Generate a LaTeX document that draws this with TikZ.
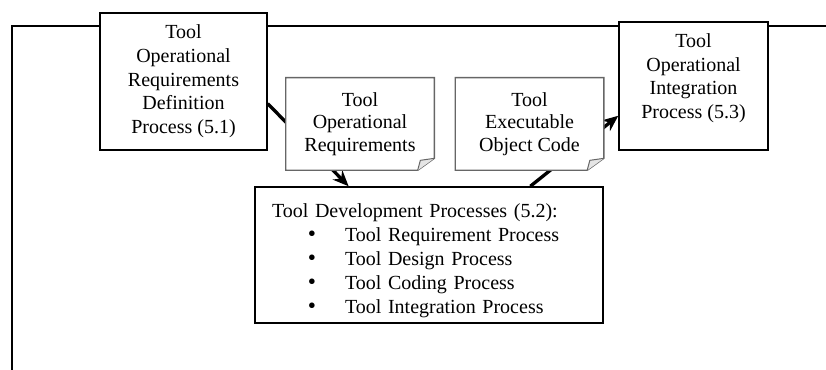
\documentclass[tikz,border=0pt]{standalone}
\usepackage{fontspec}
\setmainfont{Liberation Serif}
\usetikzlibrary{arrows.meta, calc, backgrounds}

\begin{document}
\begin{tikzpicture}[x=0.6pt, y=-0.6pt,
  procbox/.style={draw, line width=0.9pt, fill=white, align=center, inner sep=2pt, font=\fontsize{12}{14.2}\selectfont},
  docnote/.style={fill=white, align=center, inner sep=2pt, minimum width=88.8pt, minimum height=55.2pt, font=\fontsize{12}{13.5}\selectfont},
  flow/.style={line width=2pt, -{Stealth[length=9.5pt, width=8pt]}}
]
  \useasboundingbox (0,0) rectangle (826,370);

  % Processes
  \node[procbox, minimum width=100.2pt, minimum height=82.2pt] (opdef) at (183.5, 81.5) {Tool\\Operational\\Requirements\\Definition\\Process (5.1)};
  \node[procbox, minimum width=89.4pt, minimum height=76.8pt, text depth=12pt] (opint) at (693.5, 86) {Tool\\Operational\\Integration\\Process (5.3)};
  \node[procbox, align=left, text width=188.4pt, inner xsep=10.2pt, minimum height=81.6pt, text depth=53pt, font=\fontsize{12}{14.4}\selectfont] (devproc) at (429, 255) {Tool Development Processes (5.2):\\
    \hspace*{21.5pt}\makebox[22.3pt][l]{\smash{\fontsize{14}{14}\selectfont\textbullet}}Tool Requirement Process\\
    \hspace*{21.5pt}\makebox[22.3pt][l]{\smash{\fontsize{14}{14}\selectfont\textbullet}}Tool Design Process\\
    \hspace*{21.5pt}\makebox[22.3pt][l]{\smash{\fontsize{14}{14}\selectfont\textbullet}}Tool Coding Process\\
    \hspace*{21.5pt}\makebox[22.3pt][l]{\smash{\fontsize{14}{14}\selectfont\textbullet}}Tool Integration Process};

  % Data items
  \node[docnote] (opreq) at (360, 124) {Tool\\Operational\\Requirements};
  \node[docnote] (objcode) at (529.5, 124) {Tool\\Executable\\Object Code};
  \foreach \d in {opreq, objcode} {
    \draw[gray!80!black, line width=0.8pt] (\d.north west) -- (\d.north east) -- ([yshift=7.2pt]\d.south east) -- ([xshift=-10pt]\d.south east) -- (\d.south west) -- cycle;
    \draw[gray!80!black, fill=gray!20, line width=0.6pt] ([yshift=7.2pt]\d.south east) -- ([xshift=-8.4pt, yshift=6pt]\d.south east) -- ([xshift=-10pt]\d.south east);
  }

  % Frame and flows
  \begin{scope}[on background layer]
    \draw[line width=0.9pt] (826,26) -- (12,26) -- (12,370);
    \draw[flow] ($(opdef.south east)!0.34!(opdef.north east)$) -- ($(devproc.north west)!0.27!(devproc.north east)$);
    \draw[flow] ($(devproc.north west)!0.79!(devproc.north east)$) -- ($(opint.south west)!0.27!(opint.north west)$);
  \end{scope}
\end{tikzpicture}
\end{document}
